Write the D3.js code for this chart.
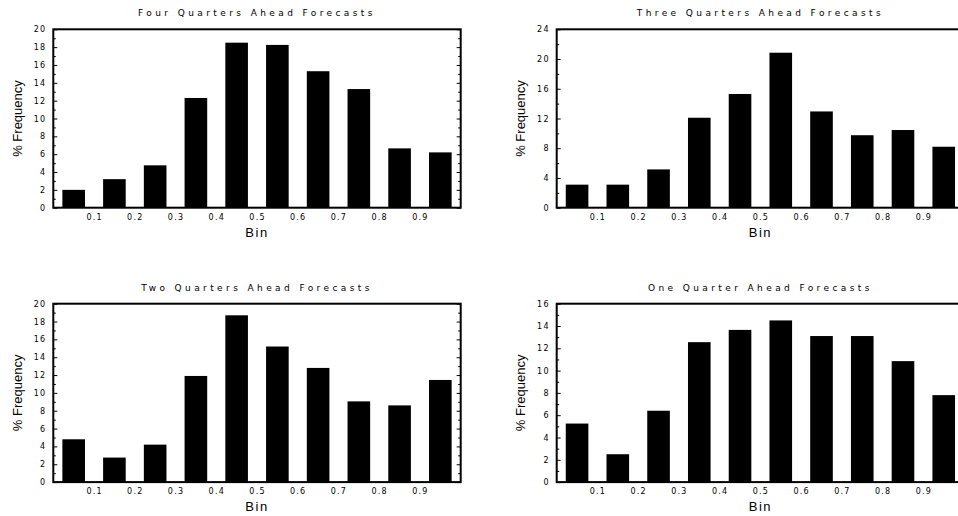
<!DOCTYPE html>
<html>
<head>
<meta charset="utf-8">
<script src="https://cdn.jsdelivr.net/npm/d3@7"></script>
<style>
  body { margin: 0; background: #fff; }
  svg { display: block; }
  .tick-font { font-family: "DejaVu Sans", sans-serif; font-size: 8px; letter-spacing: 1.2px; fill: #000; }
  .title-font { font-family: "DejaVu Sans", sans-serif; font-size: 9px; letter-spacing: 3.4px; fill: #000; }
  .label-font { font-family: "Liberation Sans", Arial, sans-serif; font-size: 13px; fill: #000; }
</style>
</head>
<body>
<div id="vis"></div>
<script>
// bins (start of each bin) and x tick labels
const BINS = [0.0, 0.1, 0.2, 0.3, 0.4, 0.5, 0.6, 0.7, 0.8, 0.9];
const X_TICKS = [0.1, 0.2, 0.3, 0.4, 0.5, 0.6, 0.7, 0.8, 0.9];

// % frequency per bin
const FOUR_Q = [2.0, 3.2, 4.75, 12.3, 18.5, 18.25, 15.3, 13.3, 6.65, 6.2];
const THREE_Q = [3.1, 3.1, 5.15, 12.1, 15.3, 20.85, 12.95, 9.75, 10.45, 8.2];
const TWO_Q = [4.8, 2.75, 4.2, 11.9, 18.7, 15.2, 12.8, 9.05, 8.6, 11.45];
const ONE_Q = [5.25, 2.5, 6.4, 12.55, 13.65, 14.5, 13.1, 13.1, 10.85, 7.8];

const TITLES = ["Four Quarters Ahead Forecasts", "Three Quarters Ahead Forecasts",
                "Two Quarters Ahead Forecasts", "One Quarter Ahead Forecasts"];
const Y_MAX = [20, 24, 20, 16];
const Y_MAJOR = [2, 4, 2, 2];
const Y_MINOR = [1, 2, 1, 1];

const WIDTH = 958, HEIGHT = 516;
const VIS_WIDTH = 407.4, VIS_HEIGHT = 178.4;
const ORIGINS = [[53.3, 29.3], [556.7, 29.3], [53.3, 303.7], [556.7, 303.7]];

const SVG = d3.select("#vis").append("svg")
              .attr("width", WIDTH)
              .attr("height", HEIGHT);

const SERIES = [FOUR_Q, THREE_Q, TWO_Q, ONE_Q];

SERIES.forEach((values, i) => {
  const [ox, oy] = ORIGINS[i];
  const FRAME = SVG.append("g").attr("transform", "translate(" + ox + "," + oy + ")");

  const X_LIN = d3.scaleLinear().domain([0, 1]).range([0, VIS_WIDTH]);
  const X_BAND = d3.scaleBand().domain(BINS).range([0, VIS_WIDTH])
                   .paddingInner(0.445).paddingOuter(0.2225);
  const Y_SCALE = d3.scaleLinear().domain([0, Y_MAX[i]]).range([VIS_HEIGHT, 0]);

  // bars
  FRAME.selectAll(".bar")
       .data(values)
       .enter().append("rect")
       .attr("x", (d, j) => X_BAND(BINS[j]))
       .attr("y", d => Y_SCALE(d))
       .attr("width", X_BAND.bandwidth())
       .attr("height", d => VIS_HEIGHT - Y_SCALE(d))
       .attr("fill", "#000");

  // x axis labels (no tick marks)
  const xAxis = FRAME.append("g")
       .attr("transform", "translate(0," + VIS_HEIGHT + ")")
       .call(d3.axisBottom(X_LIN).tickValues(X_TICKS).tickSize(0).tickPadding(0).tickFormat(d3.format(".1f")));
  xAxis.select(".domain").remove();
  xAxis.selectAll("text").attr("class", "tick-font").attr("dy", null).attr("y", 12);

  // y axis: labels on left, ticks inward on both sides
  const majors = d3.range(0, Y_MAX[i] + 0.001, Y_MAJOR[i]);
  const minors = d3.range(0, Y_MAX[i] + 0.001, Y_MINOR[i]).filter(v => v % Y_MAJOR[i] !== 0);

  const yLeft = FRAME.append("g")
       .call(d3.axisLeft(Y_SCALE).tickValues(majors).tickSize(-4).tickPadding(7));
  yLeft.select(".domain").remove();
  yLeft.selectAll("text").attr("class", "tick-font").attr("letter-spacing", "0.5px");

  const yLeftMinor = FRAME.append("g")
       .call(d3.axisLeft(Y_SCALE).tickValues(minors).tickSize(-2.5).tickFormat(""));
  yLeftMinor.select(".domain").remove();

  const yRight = FRAME.append("g")
       .attr("transform", "translate(" + VIS_WIDTH + ",0)")
       .call(d3.axisRight(Y_SCALE).tickValues(majors).tickSize(-4).tickFormat(""));
  yRight.select(".domain").remove();

  const yRightMinor = FRAME.append("g")
       .attr("transform", "translate(" + VIS_WIDTH + ",0)")
       .call(d3.axisRight(Y_SCALE).tickValues(minors).tickSize(-2.5).tickFormat(""));
  yRightMinor.select(".domain").remove();

  // frame box
  FRAME.append("rect")
       .attr("x", 0).attr("y", 0)
       .attr("width", VIS_WIDTH).attr("height", VIS_HEIGHT)
       .attr("fill", "none")
       .attr("stroke", "#000")
       .attr("stroke-width", 2);

  // title
  FRAME.append("text")
       .attr("class", "title-font")
       .attr("x", VIS_WIDTH / 2)
       .attr("y", -13)
       .attr("text-anchor", "middle")
       .text(TITLES[i]);

  // x label
  FRAME.append("text")
       .attr("class", "label-font")
       .attr("x", VIS_WIDTH / 2)
       .attr("y", VIS_HEIGHT + 29)
       .attr("text-anchor", "middle")
       .attr("letter-spacing", "1.5px")
       .text("Bin");

  // y label
  FRAME.append("text")
       .attr("class", "label-font")
       .attr("transform", "translate(" + (-36) + "," + (VIS_HEIGHT / 2) + ") rotate(-90)")
       .attr("text-anchor", "middle")
       .attr("dominant-baseline", "central")
       .text("% Frequency");
});
</script>
</body>
</html>
